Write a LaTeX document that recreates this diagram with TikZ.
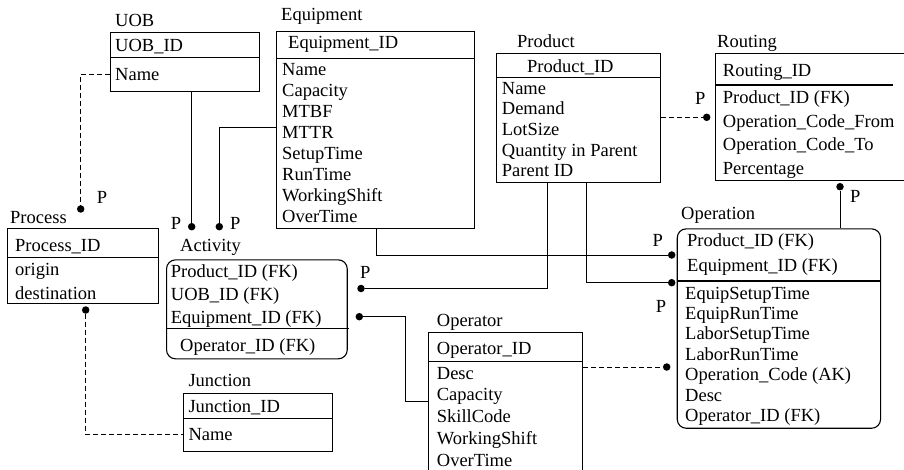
\documentclass[tikz,border=0pt]{standalone}
\usepackage{fontspec}
\setmainfont{Liberation Serif}
\usepackage{tikz}

\newcommand{\erfont}{\fontsize{18.5}{21}\selectfont}
\tikzset{
  ebox/.style={draw, line width=1.1pt, anchor=north west, inner sep=0pt},
  rbox/.style={ebox, rounded corners=9pt},
  sep/.style={line width=1.1pt},
  fld/.style={anchor=base west, inner sep=0pt, font=\erfont},
  dot/.style={circle, fill, inner sep=0pt, minimum size=7.5pt},
  link/.style={line width=0.9pt},
  dlink/.style={line width=0.9pt, dash pattern=on 5pt off 3pt},
}

\begin{document}
\begin{tikzpicture}[x=1pt, y=-1pt]
  \useasboundingbox (0,0) rectangle (904,470);

  % tables
  \node[ebox, minimum width=149pt, minimum height=58.7pt] (uob) at (110,32.3) {};
  \draw[sep] (uob.west |- 0,57.7) -- (uob.east |- 0,57.7);
  \node[fld] (uob-t) at (115,26.7) {UOB};
  \node[fld] (uob-k) at (115,51.5) {UOB\_ID};
  \node[fld] (uob-1) at (115,81) {Name};

  \node[ebox, minimum width=198pt, minimum height=197pt] (eq) at (276,30.7) {};
  \draw[sep] (eq.west |- 0,58.3) -- (eq.east |- 0,58.3);
  \node[fld] (eq-t) at (281,21) {Equipment};
  \node[fld] (eq-k) at (288,48.5) {Equipment\_ID};
  \foreach \t [count=\i] in {Name,Capacity,MTBF,MTTR,SetupTime,RunTime,WorkingShift,OverTime}
    \node[fld] (eq-\i) at (282,{76+20.95*(\i-1)}) {\t};

  \node[ebox, minimum width=164.6pt, minimum height=128.4pt] (prod) at (495.7,53.3) {};
  \draw[sep] (prod.west |- 0,77.7) -- (prod.east |- 0,77.7);
  \node[fld] (prod-t) at (517,48) {Product};
  \node[fld] (prod-k) at (527,73) {Product\_ID};
  \foreach \t [count=\i] in {Name,Demand,LotSize,Quantity in Parent,Parent ID}
    \node[fld] (prod-\i) at (501.7,{94.3+20.6*(\i-1)}) {\t};

  \node[ebox, minimum width=190pt, minimum height=126.7pt] (rout) at (715,53.3) {};
  \draw[sep] (rout.west |- 0,85) -- (892.7,85);
  \node[fld] (rout-t) at (717,48) {Routing};
  \node[fld] (rout-k) at (722.7,76.7) {Routing\_ID};
  \foreach \t [count=\i] in {Product\_ID (FK),Operation\_Code\_From,Operation\_Code\_To,Percentage}
    \node[fld] (rout-\i) at (722.7,{104+23.5*(\i-1)}) {\t};

  \node[ebox, minimum width=150.4pt, minimum height=74.4pt] (proc) at (7.3,228.3) {};
  \draw[sep] (proc.west |- 0,257.7) -- (proc.east |- 0,257.7);
  \node[fld] (proc-t) at (10,224) {Process};
  \node[fld] (proc-k) at (15,251.7) {Process\_ID};
  \node[fld] (proc-1) at (15,276) {origin};
  \node[fld] (proc-2) at (15,299) {destination};

  \node[rbox, minimum width=180.7pt, minimum height=99pt] (act) at (166,259.3) {};
  \draw[sep] (act.west |- 0,328.3) -- (349,328.3);
  \node[fld] (act-t) at (180,251.7) {Activity};
  \node[fld] (act-1) at (170.7,277) {Product\_ID (FK)};
  \node[fld] (act-2) at (170.7,300) {UOB\_ID (FK)};
  \node[fld] (act-3) at (170.7,323) {Equipment\_ID (FK)};
  \node[fld] (act-4) at (180,351) {Operator\_ID (FK)};

  \node[ebox, minimum width=149.3pt, minimum height=58.3pt] (jun) at (183,392.7) {};
  \draw[sep] (jun.west |- 0,418.3) -- (jun.east |- 0,418.3);
  \node[fld] (jun-t) at (188.3,386) {Junction};
  \node[fld] (jun-k) at (188.3,412) {Junction\_ID};
  \node[fld] (jun-1) at (188.3,440) {Name};

  \node[ebox, minimum width=154pt, minimum height=150pt] (opr) at (428.3,332.3) {};
  \draw[sep] (opr.west |- 0,361.7) -- (opr.east |- 0,361.7);
  \node[fld] (opr-t) at (436.7,326) {Operator};
  \node[fld] (opr-k) at (436.7,354.5) {Operator\_ID};
  \foreach \t [count=\i] in {Desc,Capacity,SkillCode,WorkingShift,OverTime}
    \node[fld] (opr-\i) at (436.7,{379+21.75*(\i-1)}) {\t};

  \node[rbox, minimum width=203.3pt, minimum height=199.4pt] (op) at (676.7,228.3) {};
  \draw[sep] (op.west |- 0,281) -- (op.east |- 0,281);
  \node[fld] (op-t) at (681,220) {Operation};
  \node[fld] (op-k1) at (687,246.7) {Product\_ID (FK)};
  \node[fld] (op-k2) at (687,272) {Equipment\_ID (FK)};
  \foreach \t [count=\i] in {EquipSetupTime,EquipRunTime,LaborSetupTime,LaborRunTime,Operation\_Code (AK),Desc,Operator\_ID (FK)}
    \node[fld] (op-\i) at (685,{299+20.4*(\i-1)}) {\t};

  % relationship ends
  \node[dot] (d-uobproc) at (80.7,209) {};
  \node[dot] (d-uobact) at (191.7,226.7) {};
  \node[dot] (d-eqact) at (219.3,226.7) {};
  \node[dot] (d-eqop) at (671.7,255) {};
  \node[dot] (d-prodact) at (361,288.5) {};
  \node[dot] (d-prodop) at (671.7,282.7) {};
  \node[dot] (d-prodrout) at (706.7,117.3) {};
  \node[dot] (d-routop) at (840,186.7) {};
  \node[dot] (d-actopr) at (359.3,316.7) {};
  \node[dot] (d-oprop) at (666.7,367) {};
  \node[dot] (d-procjun) at (85.7,310) {};

  \node[fld] (p1) at (96.7,204) {P};
  \node[fld] (p2) at (170.7,230) {P};
  \node[fld] (p3) at (230,230) {P};
  \node[fld] (p4) at (360,278.3) {P};
  \node[fld] (p5) at (695,105) {P};
  \node[fld] (p6) at (850,203) {P};
  \node[fld] (p7) at (652.3,246.7) {P};
  \node[fld] (p8) at (655.7,312.7) {P};

  % connectors
  \draw[dlink] (uob.west |- 0,74) -| (d-uobproc);
  \draw[link] (uob.south -| d-uobact) -- (d-uobact);
  \draw[link] (eq.west |- 0,127.7) -| (d-eqact);
  \draw[link] (eq.south -| 376,0) |- (d-eqop);
  \draw[link] (prod.south -| 547.3,0) |- (d-prodact);
  \draw[link] (prod.south -| 586.7,0) |- (d-prodop);
  \draw[dlink] (prod.east |- d-prodrout) -- (d-prodrout);
  \draw[link] (d-routop) -- (op.north -| d-routop);
  \draw[link] (d-actopr) -| (405,401) -- (opr.west |- 0,401);
  \draw[dlink] (opr.east |- d-oprop) -- (d-oprop);
  \draw[dlink] (d-procjun) |- (jun.west |- 0,434.3);
\end{tikzpicture}
\end{document}
